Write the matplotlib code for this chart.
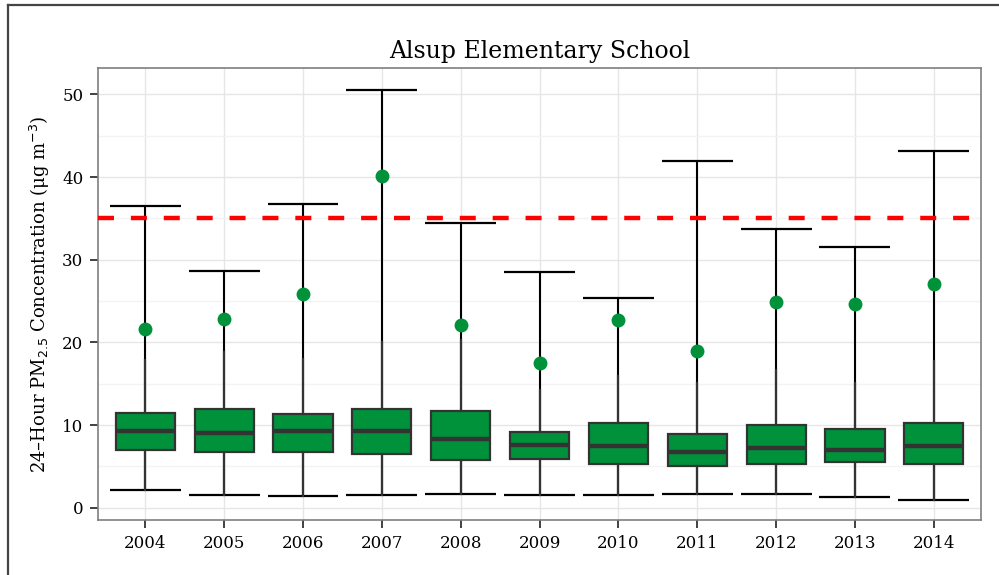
import matplotlib
matplotlib.use('Agg')
import matplotlib.pyplot as plt
from matplotlib.lines import Line2D

# yearly summary of 24-hour PM2.5 at the site
years = ['2004', '2005', '2006', '2007', '2008', '2009', '2010', '2011', '2012', '2013', '2014']
low = [2.15, 1.5, 1.4, 1.6, 1.7, 1.5, 1.5, 1.7, 1.7, 1.3, 1.0]
q1 = [7.0, 6.7, 6.7, 6.5, 5.8, 5.9, 5.3, 5.0, 5.3, 5.5, 5.3]
med = [9.3, 9.1, 9.3, 9.3, 8.3, 7.6, 7.5, 6.7, 7.2, 6.95, 7.5]
q3 = [11.5, 12.0, 11.4, 11.9, 11.7, 9.2, 10.2, 8.9, 10.0, 9.5, 10.3]
whisk_hi = [17.9, 18.9, 18.0, 20.0, 20.3, 14.2, 15.9, 15.1, 16.7, 15.1, 17.7]
high = [36.5, 28.7, 36.7, 50.6, 34.4, 28.5, 25.4, 41.9, 33.7, 31.6, 43.2]
p98 = [21.6, 22.8, 25.9, 40.1, 22.1, 17.5, 22.7, 19.0, 24.9, 24.6, 27.1]
standard = 35

plt.rcParams['font.family'] = ['DejaVu Serif']

fig = plt.figure(figsize=(9.99, 5.75), dpi=100)
ax = fig.add_axes([0.0981, 0.0957, 0.884, 0.786])

pos = list(range(1, len(years) + 1))
green = '#00923B'
dark = '#333333'

# min-max range with wide caps
ax.vlines(pos, low, high, color='black', lw=1.5, zorder=2)
ax.hlines(high, [p - 0.45 for p in pos], [p + 0.45 for p in pos], color='black', lw=1.6, zorder=2)
ax.hlines(low, [p - 0.45 for p in pos], [p + 0.45 for p in pos], color='black', lw=1.6, zorder=2)

stats = []
for i in range(len(years)):
    stats.append({'med': med[i], 'q1': q1[i], 'q3': q3[i],
                  'whislo': low[i], 'whishi': whisk_hi[i], 'fliers': []})
ax.bxp(stats, positions=pos, widths=0.75, patch_artist=True, showcaps=False,
       boxprops=dict(facecolor=green, edgecolor=dark, linewidth=1.6),
       medianprops=dict(color=dark, linewidth=3.2, solid_capstyle='butt'),
       whiskerprops=dict(color=dark, linewidth=1.6), zorder=3)

ax.plot(pos, p98, 'o', color=green, ms=9, zorder=5)
ax.axhline(standard, color='red', lw=3.2, ls=(0, (3.6, 3.8)), zorder=4)

ax.set_xlim(0.4, 11.6)
ax.set_ylim(-1.47, 53.2)
ax.set_xticks(pos)
ax.set_xticklabels(years)
ax.set_yticks([0, 10, 20, 30, 40, 50])
ax.set_yticks([5, 15, 25, 35, 45], minor=True)
ax.tick_params(axis='both', which='major', labelsize=12, length=5.5, width=1.3,
               color=dark, labelcolor='black', pad=5)
ax.tick_params(axis='y', which='minor', length=0)
ax.grid(True, which='major', color='#E6E6E6', lw=1.0, zorder=0)
ax.grid(True, which='minor', axis='y', color='#F3F3F3', lw=1.0, zorder=0)
ax.set_axisbelow(True)
for s in ax.spines.values():
    s.set_color('#7F7F7F')
    s.set_linewidth(1.2)

ax.set_title('Alsup Elementary School', fontsize=17, pad=7)
ax.set_ylabel(r'24–Hour PM$_{2.5}$ Concentration ($\mathregular{\mu}$g m$^{-3}$)', fontsize=13, labelpad=7)

# outer frame visible at left and top of the image
fig.add_artist(Line2D([8 / 999, 8 / 999], [0, 1 - 5 / 575], color='#444444', lw=1.6))
fig.add_artist(Line2D([8 / 999, 1], [1 - 5 / 575, 1 - 5 / 575], color='#444444', lw=1.6))

fig.savefig('out.png', dpi=100)
